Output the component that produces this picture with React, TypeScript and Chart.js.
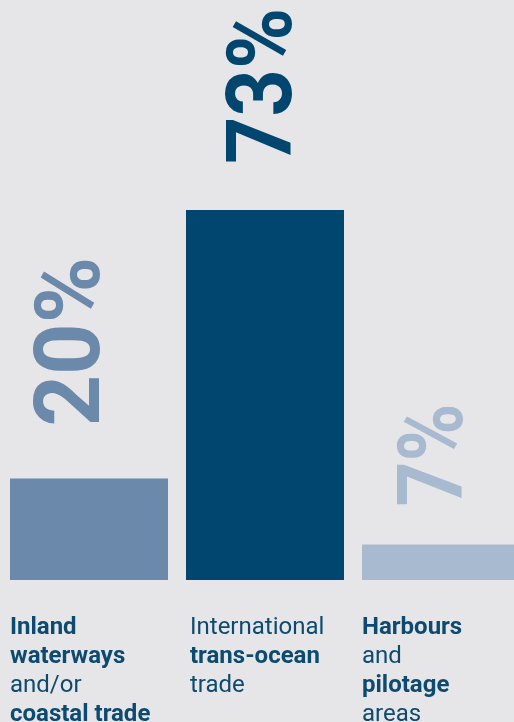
import React, { useEffect, useRef } from "react";
import { Chart, registerables } from "chart.js";

Chart.register(...registerables);

const categories = ["Inland waterways and/or coastal trade", "International trans-ocean trade", "Harbours and pilotage areas"];
const shares = [20, 73, 7];
const valueLabels = ["20%", "73%", "7%"];
// each category label: lines of [text, bold]
const categoryLines: [string, boolean][][] = [
  [["Inland", true], ["waterways", true], ["and/or", false], ["coastal trade", true]],
  [["International", false], ["trans-ocean", true], ["trade", false]],
  [["Harbours", true], ["and", false], ["pilotage", true], ["areas", false]],
];

const barColors = ["#6b89ab", "#00466e", "#a8bad0"];
const textColor = "#0d4a70";
const bg = "#e6e6e9";
// per-label style nudges: baseline x offset from bar centre, start gap above bar top, text-direction scale
const labelNudge = [
  { dx: 10, gap: 52, sx: 1.0 },
  { dx: 26, gap: 46, sx: 0.92 },
  { dx: 21, gap: 38, sx: 0.87 },
];
const catDx = [0, 4, 0];

const labelsPlugin = {
  id: "customLabels",
  afterDatasetsDraw(chart: any) {
    const ctx = chart.ctx;
    const meta = chart.getDatasetMeta(0);
    meta.data.forEach((bar: any, i: number) => {
      const props = bar.getProps(["x", "y", "width", "base"], true);
      // rotated value label
      ctx.save();
      ctx.fillStyle = barColors[i];
      ctx.font = "bold 90px Roboto";
      ctx.textAlign = "left";
      ctx.textBaseline = "alphabetic";
      ctx.translate(props.x + labelNudge[i].dx, props.y - labelNudge[i].gap);
      ctx.rotate(-Math.PI / 2);
      ctx.scale(labelNudge[i].sx, 1);
      ctx.fillText(valueLabels[i], 0, 0);
      ctx.restore();
      // category label
      ctx.save();
      ctx.fillStyle = textColor;
      ctx.textAlign = "left";
      ctx.textBaseline = "alphabetic";
      const left = props.x - props.width / 2 + catDx[i];
      categoryLines[i].forEach(([t, b], j) => {
        ctx.font = (b ? "bold " : "") + "24px Roboto";
        ctx.fillText(t, left, props.base + 54 + j * 29);
      });
      ctx.restore();
    });
  },
};

export default function App() {
  const ref = useRef<HTMLCanvasElement>(null);
  useEffect(() => {
    if (!ref.current) return;
    const chart = new Chart(ref.current, {
      type: "bar",
      data: {
        labels: categories,
        datasets: [
          {
            data: shares,
            backgroundColor: barColors,
            borderWidth: 0,
            barPercentage: 158 / 176,
            categoryPercentage: 1,
          },
        ],
      },
      options: {
        animation: false,
        responsive: false,
        devicePixelRatio: 1,
        layout: { padding: { top: 73, bottom: 142, left: 1, right: 0 } },
        plugins: { legend: { display: false }, tooltip: { enabled: false } },
        scales: {
          x: { display: false },
          y: { display: false, min: 0, max: 100 },
        },
      },
      plugins: [labelsPlugin],
    });
    return () => chart.destroy();
  }, []);
  return (
    <div style={{ position: "fixed", left: 0, top: 0, width: 514, height: 722, overflow: "hidden", background: bg }}>
      <canvas ref={ref} width={529} height={722} style={{ display: "block" }} />
    </div>
  );
}
